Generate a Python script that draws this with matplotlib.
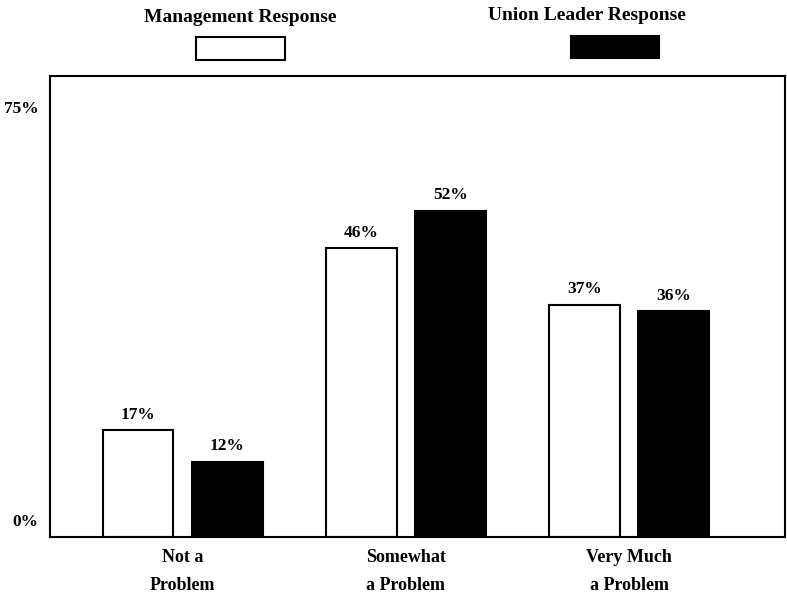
import numpy as np
import matplotlib.pyplot as plt
from matplotlib.patches import Rectangle

categories = ["Not a\nProblem", "Somewhat\na Problem", "Very Much\na Problem"]
management = [17, 46, 37]
union = [12, 52, 36]
series_names = ["Management Response", "Union Leader Response"]
ytick_pos = [2.7, 68.6]
ytick_labels = ["0%", "75%"]

plt.rcParams['font.family'] = ['Liberation Serif', 'DejaVu Serif']
plt.rcParams['font.weight'] = 'bold'

fig = plt.figure(figsize=(7.87, 6.01), dpi=100)
ax = fig.add_axes([0.0635, 0.1065, 0.9335, 0.767])

x = np.arange(len(categories))
w = 0.317
off = 0.2
ax.bar(x - off, management, w, color='white', edgecolor='black', linewidth=1.5)
ax.bar(x + off, union, w, color='black', edgecolor='black', linewidth=1.5)

for xi, m, u in zip(x, management, union):
    ax.text(xi - off, m + 1.2, f"{m}%", ha='center', va='bottom', fontsize=12.5, fontweight='bold')
    ax.text(xi + off, u + 1.2, f"{u}%", ha='center', va='bottom', fontsize=12.5, fontweight='bold')

ax.set_xlim(-0.594, 2.696)
ax.set_ylim(0, 73.5)
ax.set_xticks(x)
ax.set_xticklabels(categories, fontsize=13, fontweight='bold', linespacing=1.8)
ax.set_yticks(ytick_pos)
ax.set_yticklabels(ytick_labels, fontsize=12.5, fontweight='bold')
ax.tick_params(length=0)
ax.tick_params(axis='x', pad=9)
ax.tick_params(axis='y', pad=8)
for s in ax.spines.values():
    s.set_linewidth(1.5)

# legend at top
fig.text(240 / 787, 1 - 18 / 601, series_names[0], ha='center', va='center', fontsize=14, fontweight='bold')
fig.text(587 / 787, 1 - 16 / 601, series_names[1], ha='center', va='center', fontsize=14, fontweight='bold')
fig.patches.append(Rectangle((196 / 787, 1 - 60 / 601), 89 / 787, 23 / 601, transform=fig.transFigure,
                             facecolor='white', edgecolor='black', linewidth=1.5))
fig.patches.append(Rectangle((571 / 787, 1 - 58 / 601), 88 / 787, 22 / 601, transform=fig.transFigure,
                             facecolor='black', edgecolor='black', linewidth=1.5))

fig.savefig("out.png", dpi=100)
